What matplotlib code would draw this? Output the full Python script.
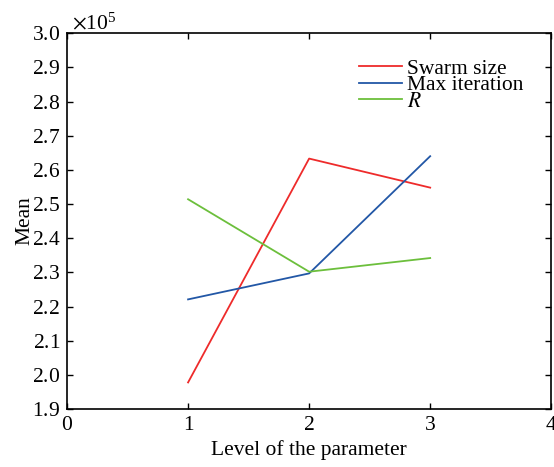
import matplotlib
matplotlib.use('Agg')
import matplotlib.pyplot as plt
from matplotlib.ticker import ScalarFormatter

### DATOS ###
niveles = [1, 2, 3]
swarm_size = [1.978e5, 2.633e5, 2.548e5]
max_iteration = [2.221e5, 2.297e5, 2.640e5]
r_valores = [2.514e5, 2.302e5, 2.342e5]
etiquetas = ['Swarm size', 'Max iteration', r'$R$']

plt.rcParams['font.family'] = ['Liberation Serif', 'DejaVu Serif']
plt.rcParams['mathtext.fontset'] = 'stix'
plt.rcParams['font.size'] = 15.5

### FIGURA ###
fig = plt.figure(figsize=(5.54, 4.67), dpi=100)
ax = fig.add_axes([0.121, 0.124, 0.874, 0.805])

ax.plot(niveles, swarm_size, color='#ee2b2b', lw=1.3, label=etiquetas[0])
ax.plot(niveles, max_iteration, color='#2257a6', lw=1.3, label=etiquetas[1])
ax.plot(niveles, r_valores, color='#6cbf3c', lw=1.3, label=etiquetas[2])

ax.set_xlim(0, 4)
ax.set_ylim(1.9e5, 3.0e5)
ax.set_xticks([0, 1, 2, 3, 4])
ax.set_yticks([1.9e5 + i * 0.1e5 for i in range(12)])

fmt = ScalarFormatter(useMathText=True)
fmt.set_powerlimits((0, 0))
ax.yaxis.set_major_formatter(fmt)
ax.yaxis.get_offset_text().set_x(0.01)
ax.yaxis.get_offset_text().set_fontsize(15.5)

ax.tick_params(direction='in', top=True, right=True, length=4, width=1, pad=5)
for s in ax.spines.values():
    s.set_linewidth(1.2)

ax.set_xlabel('Level of the parameter', labelpad=4)
ax.set_ylabel('Mean', labelpad=-2)

leg = ax.legend(loc='upper right', bbox_to_anchor=(0.974, 0.972), frameon=False,
                handlelength=2.0, handletextpad=0.25, labelspacing=-0.17,
                borderaxespad=0.3)

fig.savefig('out.png', dpi=100)
